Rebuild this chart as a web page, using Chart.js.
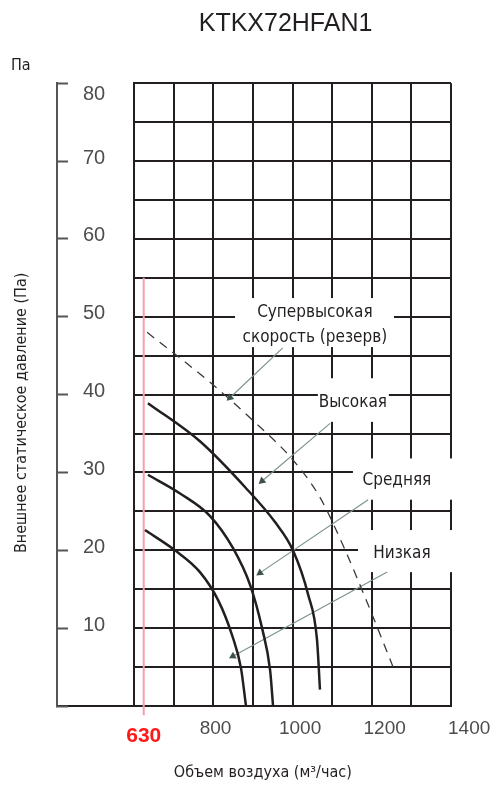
<!DOCTYPE html>
<html lang="ru">
<head>
<meta charset="utf-8">
<title>KTKX72HFAN1</title>
<script src="https://cdn.jsdelivr.net/npm/chart.js@4"></script>
<style>
  html, body { margin: 0; padding: 0; background: #fff; }
  #chart { display: block; }
</style>
</head>
<body>
<canvas id="chart" width="493" height="785"></canvas>
<script>
// Кривые вентилятора : расход (м3/час) и давление (Па)
const superHighX = [638, 782, 888, 983, 1047, 1101, 1161, 1220];
const superHighY = [48.0, 41.8, 36.7, 31.6, 26.8, 20.7, 13.0, 5.0];
const highX = [640, 763, 870, 941, 983, 1019, 1040, 1047];
const highY = [38.9, 34.0, 28.1, 23.6, 20.0, 14.3, 8.5, 2.1];
const mediumX = [640, 716, 787, 841, 882, 910, 929, 936];
const mediumY = [29.7, 27.3, 24.4, 20.3, 15.5, 10.0, 4.6, 0];
const lowX = [633, 704, 763, 806, 839, 860, 872];
const lowY = [22.6, 20.0, 17.2, 13.6, 9.1, 4.9, 0];

// Рабочая точка (красная линия)
const markX = 630;
const markY = [55, -1.2];

// Подписи осей
const xTickValues = [630, 800, 1000, 1200, 1400];
const yTickValues = [0, 10, 20, 30, 40, 50, 60, 70, 80];
const xMin = 607, xMax = 1357;

// Подписи скоростей и выноски (в единицах осей)
const labelText = [['Супервысокая', 'скорость (резерв)'], ['Высокая'], ['Средняя'], ['Низкая']];
const labelX = [1035, 1125, 1229, 1241];
const labelY = [48.9, 39.0, 29.0, 19.6];
const labelBoxX = [[846, 1222], [1042, 1210], [1125, 1362], [1137, 1362]];
const labelBoxY = [[46.1, 52.4], [36.5, 42.1], [26.5, 31.8], [17.2, 22.6]];
const leaderFromX = [959, 1071, 1161, 1206];
const leaderFromY = [46.0, 36.3, 26.5, 17.2];
const leaderToX = [834, 910, 905, 841];
const leaderToY = [39.6, 28.9, 17.1, 6.4];

const ink = '#231f20';
const grey = '#4d4d4d';
const sans = '"Liberation Sans", Arial, sans-serif';
const narrow = '"Liberation Sans Narrow", "Arial Narrow", "DejaVu Sans Condensed", sans-serif';

// Сетка : 8 равных колонок
const gridX = [];
for (let i = 0; i <= 8; i++) gridX.push(xMin + (xMax - xMin) * i / 8);

function points(xs, ys) {
    return xs.map((x, i) => ({ x: x, y: ys[i] }));
}

function curve(xs, ys, extra) {
    return Object.assign({
        data: points(xs, ys),
        borderColor: ink,
        borderWidth: 2.5,
        pointRadius: 0,
        fill: false,
        cubicInterpolationMode: 'monotone'
    }, extra || {});
}

const datasets = [
    curve(superHighX, superHighY, { borderColor: '#3a3a3a', borderWidth: 1.3, borderDash: [9, 7] }),
    curve(highX, highY),
    curve(mediumX, mediumY),
    curve(lowX, lowY),
    {
        data: [{ x: markX, y: markY[0] }, { x: markX, y: markY[1] }],
        borderColor: '#f5a0a8',
        borderWidth: 2,
        pointRadius: 0,
        clip: false
    }
];

// Выноски со стрелками
leaderFromX.forEach((fx, i) => {
    datasets.push({
        data: [{ x: fx, y: leaderFromY[i] }, { x: leaderToX[i], y: leaderToY[i] }],
        borderColor: '#7d9488',
        borderWidth: 1.2,
        pointRadius: [0, 4.5],
        pointStyle: 'triangle',
        pointBackgroundColor: '#3d5248',
        pointBorderWidth: 0,
        pointRotation: (c) => {
            const s = c.chart.scales;
            const dx = s.x.getPixelForValue(leaderToX[i]) - s.x.getPixelForValue(fx);
            const dy = s.y.getPixelForValue(leaderToY[i]) - s.y.getPixelForValue(leaderFromY[i]);
            return Math.atan2(dx, -dy) * 180 / Math.PI;
        }
    });
});

// Белые плашки с подписями поверх сетки
const speedLabels = {
    id: 'speedLabels',
    beforeDatasetsDraw(chart) {
        const { ctx, scales: { x, y } } = chart;
        ctx.save();
        labelText.forEach((lines, i) => {
            const x1 = x.getPixelForValue(labelBoxX[i][0]);
            const x2 = x.getPixelForValue(labelBoxX[i][1]);
            const y1 = y.getPixelForValue(labelBoxY[i][1]);
            const y2 = y.getPixelForValue(labelBoxY[i][0]);
            ctx.fillStyle = '#fff';
            ctx.fillRect(x1, y1, x2 - x1, y2 - y1);

            ctx.fillStyle = ink;
            ctx.font = '17px ' + narrow;
            ctx.textAlign = 'center';
            ctx.textBaseline = 'middle';
            const cx = x.getPixelForValue(labelX[i]);
            const cy = y.getPixelForValue(labelY[i]);
            lines.forEach((t, k) => {
                ctx.fillText(t, cx, cy + (k - (lines.length - 1) / 2) * 25);
            });
        });
        ctx.restore();
    }
};

new Chart(document.getElementById('chart'), {
    type: 'line',
    data: { datasets: datasets },
    plugins: [speedLabels],
    options: {
        responsive: false,
        animation: false,
        events: [],
        devicePixelRatio: 1,
        layout: { padding: { left: 11, right: 42, top: 0, bottom: 0 } },
        plugins: {
            legend: { display: false },
            tooltip: { enabled: false },
            title: {
                display: true,
                text: 'KTKX72HFAN1' + '\u00a0\u00a0',
                fullSize: false,
                color: ink,
                font: { family: sans, size: 25, weight: 'normal', lineHeight: 1.2 },
                padding: { top: 9, bottom: 0 }
            },
            subtitle: {
                display: true,
                text: 'Па',
                align: 'start',
                color: ink,
                font: { family: narrow, size: 16, lineHeight: 1.2 },
                padding: { top: 17, bottom: 8 }
            }
        },
        scales: {
            x: {
                type: 'linear',
                min: xMin,
                max: xMax,
                afterBuildTicks: (scale) => {
                    // первая и последняя метки - линии сетки без текста
                    const vals = gridX.slice(0, -1).concat(xTickValues, [gridX[gridX.length - 1]]);
                    scale.ticks = vals.map(v => ({ value: v }));
                },
                afterFit: (scale) => { scale.height = 79; },
                grid: {
                    color: (c) => gridX.includes(c.tick.value) ? ink : 'rgba(0,0,0,0)',
                    lineWidth: 2,
                    drawTicks: false
                },
                border: { display: true, color: ink, width: 2 },
                ticks: {
                    autoSkip: false,
                    maxRotation: 0,
                    minRotation: 0,
                    padding: 11,
                    callback: (v) => xTickValues.includes(v) ? String(v) : '',
                    color: (c) => c.tick && c.tick.value === markX ? '#ff1a1a' : grey,
                    font: (c) => c.tick && c.tick.value === markX
                        ? { family: sans, size: 21, weight: 'bold', lineHeight: 1.85 }
                        : { family: sans, size: 19, lineHeight: 1.2 }
                },
                title: {
                    display: true,
                    text: 'Объем воздуха (м³/час)' + '\u00a0'.repeat(13),
                    color: ink,
                    font: { family: narrow, size: 16, lineHeight: 1.2 },
                    padding: { top: 0, bottom: 2.4 }
                }
            },
            y: {
                type: 'linear',
                position: 'left',
                weight: 0,
                min: 0,
                max: 80,
                afterFit: (scale) => { scale.width = 77; },
                grid: {
                    color: ink,
                    lineWidth: 2,
                    drawTicks: true,
                    tickLength: 77,
                    tickWidth: 2,
                    tickColor: (c) => c.tick && c.tick.value === 0 ? ink : 'rgba(0,0,0,0)'
                },
                border: { display: true, color: ink, width: 2 },
                ticks: { display: false, stepSize: 5 }
            },
            yL: {
                type: 'linear',
                position: 'left',
                weight: 10,
                min: 0,
                max: 80,
                afterBuildTicks: (scale) => {
                    scale.ticks = yTickValues.map(v => ({ value: v }));
                },
                afterFit: (scale) => { scale.width = 46; },
                grid: {
                    drawOnChartArea: false,
                    drawTicks: true,
                    tickLength: -11,
                    tickWidth: 2,
                    tickColor: '#555'
                },
                border: { display: true, color: '#555', width: 2 },
                ticks: {
                    mirror: true,
                    padding: 26,
                    color: grey,
                    callback: (v) => v === 0 ? '' : (v === 80 ? ['', '80'] : [String(v), '']),
                    font: (c) => ({
                        family: sans,
                        size: 20,
                        lineHeight: c.tick && c.tick.value === 80 ? 1.15 : 0.3
                    })
                },
                title: {
                    display: true,
                    text: 'Внешнее статическое давление (Па)' + '\u00a0'.repeat(8),
                    color: ink,
                    font: { family: narrow, size: 16, lineHeight: 1.2 },
                    padding: { top: 1, bottom: 0 }
                }
            }
        }
    }
});
</script>
</body>
</html>
